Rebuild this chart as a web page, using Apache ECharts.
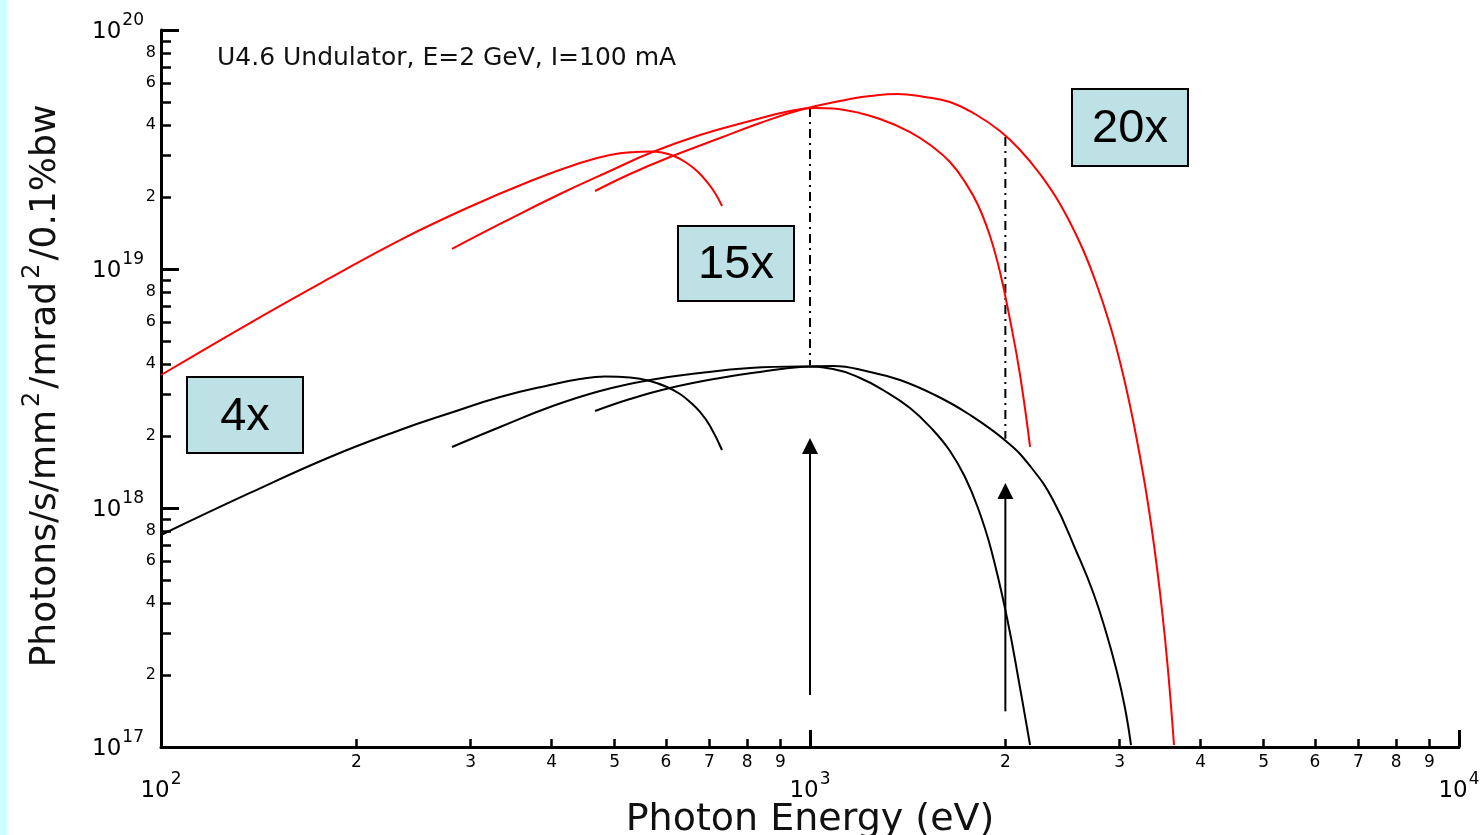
<!DOCTYPE html>
<html><head><meta charset="utf-8">
<script src="https://cdn.jsdelivr.net/npm/echarts@6/dist/echarts.min.js"></script>
<style>html,body{margin:0;padding:0;background:#fff}#c{width:1483px;height:835px}</style>
</head><body><div id="c"></div>
<script>
// ---------- data (photon energy in eV, brightness in photons/s/mm^2/mrad^2/0.1%bw) ----------
const redH1Energy = [100,137.1,182.2,233.5,296.2,374.3,442.2,491.9,537.6,566.9,591.5,617.2,644.1,669.7,693.9,713.9,731.9];
const redH1Bright = [3.601e18,5.943e18,9.170e18,1.322e19,1.800e19,2.357e19,2.777e19,2.999e19,3.087e19,3.102e19,3.072e19,2.970e19,2.790e19,2.571e19,2.312e19,2.080e19,1.835e19];
const redH3Energy = [280.8,333.0,411.9,491.9,566.9,676.9,808.4,931.5,1017.9,1152.6,1282.0,1426.0,1546.9,1643.1,1733.0,1814.8,1893.8,1962.2,2033.6,2107.0,2183.1];
const redH3Bright = [1.213e19,1.543e19,2.060e19,2.571e19,3.057e19,3.636e19,4.161e19,4.583e19,4.717e19,4.583e19,4.242e19,3.742e19,3.239e19,2.804e19,2.312e19,1.853e19,1.374e19,9.715e18,6.117e18,3.601e18,1.800e18];
const redH5Energy = [466.5,528.1,608.6,726.7,837.5,965.2,1152.6,1237.3,1361.7,1503.8,1643.1,1795.7,1962.2,2107.0,2261.4,2427.8,2606.3,2749.0,2898.9,3025.1,3156.7,3282.3,3388.8,3486.4,3561.4,3638.0];
const redH5Bright = [2.120e19,2.498e19,2.942e19,3.532e19,4.082e19,4.627e19,5.144e19,5.295e19,5.398e19,5.244e19,4.997e19,4.452e19,3.779e19,3.147e19,2.498e19,1.871e19,1.285e19,8.994e18,5.830e18,3.779e18,2.225e18,1.248e18,7.002e17,3.743e17,2.100e17,1.019e17];

const blackH1Energy = [100,137.1,182.2,233.5,278.9,333.0,397.6,442.2,483.2,528.1,566.9,602.2,630.5,653.3,676.9,701.4,731.9];
const blackH1Bright = [7.710e17,1.156e18,1.635e18,2.120e18,2.497e18,2.914e18,3.271e18,3.465e18,3.550e18,3.516e18,3.399e18,3.208e18,2.999e18,2.777e18,2.522e18,2.204e18,1.749e18];
const blackH3Energy = [280.8,333.0,397.6,474.8,566.9,676.9,808.4,965.2,1085.0,1194.2,1295.7,1426.0,1546.9,1643.1,1733.0,1814.8,1900.5,2012.0,2107.0,2183.1];
const blackH3Bright = [1.800e18,2.182e18,2.646e18,3.087e18,3.432e18,3.672e18,3.853e18,3.909e18,3.815e18,3.499e18,3.117e18,2.621e18,2.120e18,1.732e18,1.348e18,1.000e18,6.737e17,3.465e17,1.766e17,1.019e17];
const blackH5Energy = [466.5,528.1,608.6,726.7,837.5,965.2,1085.0,1237.3,1376.3,1557.9,1745.3,2012.0,2183.1,2368.5,2579.1,2729.6,2858.1,2971.9,3057.4,3123.3];
const blackH5Bright = [2.546e18,2.858e18,3.178e18,3.499e18,3.707e18,3.890e18,3.928e18,3.707e18,3.432e18,2.970e18,2.497e18,1.889e18,1.499e18,1.080e18,6.483e17,4.452e17,3.028e17,2.060e17,1.456e17,1.019e17];

// dash-dot guides and arrows
const guideEnergy = [1000, 2000];
const guideTop = [4.72e19, 3.567e19];
const guideBottom = [3.95e18, 1.95e18];
const arrowEnergy = [1000, 2000];
const arrowBase = [1.65e17, 1.41e17];
const arrowHead = [1.818e18, 1.179e18];

// ticks and labels
const xMajorTicks = [100, 1000, 10000];
const xMinorTicks = [200,300,400,500,600,700,800,900,2000,3000,4000,5000,6000,7000,8000,9000];
const xMinorLabels = ['2','3','4','5','6','7','8','9','2','3','4','5','6','7','8','9'];
const yMajorTicks = [1e17, 1e18, 1e19, 1e20];
const yMinorTicks = [2e17,3e17,4e17,5e17,6e17,7e17,8e17,9e17,2e18,3e18,4e18,5e18,6e18,7e18,8e18,9e18,2e19,3e19,4e19,5e19,6e19,7e19,8e19,9e19];
const yMinorLabelTicks = [2e17,4e17,6e17,8e17,2e18,4e18,6e18,8e18,2e19,4e19,6e19,8e19];
const yMinorLabels = ['2','4','6','8','2','4','6','8','2','4','6','8'];

const titleText = 'U4.6 Undulator, E=2 GeV, I=100 mA';
const xName = 'Photon Energy (eV)';
const boxLabels = ['4x', '15x', '20x'];

// ---------- chart ----------
const FONT = 'DejaVu Sans';
const zip = (a, b) => a.map((v, i) => [v, b[i]]);
const lg = a => a.map(v => Math.log10(v));
const pick = (exps, labels) => v => { const i = exps.findIndex(e => Math.abs(e - v) < 1e-6); return i >= 0 ? labels[i] : ''; };

const supRich = {
  b: {fontSize: 23, fontFamily: FONT, color: '#000'},
  s: {fontSize: 17, fontFamily: FONT, color: '#000', padding: [0, 0, 24, 1]}
};

function curve(E, B, color) {
  return {type: 'line', xAxisIndex: 0, yAxisIndex: 0, data: zip(E, B), symbol: 'none', smooth: 0.45,
    lineStyle: {color: color, width: 2}, silent: true, z: 3};
}

const series = [
  curve(redH1Energy, redH1Bright, '#ff0000'),
  curve(redH3Energy, redH3Bright, '#ff0000'),
  curve(redH5Energy, redH5Bright, '#ff0000'),
  curve(blackH1Energy, blackH1Bright, '#000000'),
  curve(blackH3Energy, blackH3Bright, '#000000'),
  curve(blackH5Energy, blackH5Bright, '#000000')
];
guideEnergy.forEach((e, i) => series.push({
  type: 'line', data: [[e, guideTop[i]], [e, guideBottom[i]]], symbol: 'none', silent: true,
  lineStyle: {color: '#000', width: 2, type: [9, 5, 2, 5]}, z: 2
}));
arrowEnergy.forEach((e, i) => series.push({
  type: 'line', silent: true, showSymbol: true, symbol: 'none',
  data: [{value: [e, arrowBase[i]], symbol: 'none'}, {value: [e, arrowHead[i]], symbol: 'triangle', symbolSize: [16, 16]}],
  lineStyle: {color: '#000', width: 2}, itemStyle: {color: '#000'}, z: 2
}));

const boxes = [
  {x: 187, y: 377, w: 116, h: 76},
  {x: 678, y: 226, w: 116, h: 75},
  {x: 1072, y: 89, w: 116, h: 77}
];
const graphic = [
  {type: 'rect', shape: {x: 0, y: 0, width: 7, height: 835}, style: {fill: '#ccffff'}, silent: true},
  {type: 'text', x: 217, y: 58, style: {text: titleText, fontSize: 25, fontFamily: FONT, fill: '#111', align: 'left', verticalAlign: 'middle'}},
  {type: 'text', x: 810, y: 820, style: {text: xName, fontSize: 38, fontFamily: FONT, fill: '#111', align: 'center', verticalAlign: 'middle'}},
  {type: 'text', x: 46, y: 386, rotation: Math.PI / 2, style: {
    text: '{a|Photons/s/mm}{s|2}{a|/mrad}{s|2}{a|/0.1%bw}',
    rich: {a: {fontSize: 36, fontFamily: FONT, fill: '#111'}, s: {fontSize: 24, fontFamily: FONT, fill: '#111', padding: [0, 3, 26, 3]}},
    align: 'center', verticalAlign: 'middle'}}
];
boxes.forEach((b, i) => {
  graphic.push({type: 'rect', shape: {x: b.x, y: b.y, width: b.w, height: b.h}, style: {fill: '#bde1e4', stroke: '#000', lineWidth: 2}, z: 10});
  graphic.push({type: 'text', x: b.x + b.w / 2, y: b.y + b.h / 2 + 2, z: 11,
    style: {text: boxLabels[i], fontSize: 47, fontFamily: 'Liberation Sans', fill: '#000', align: 'center', verticalAlign: 'middle'}});
});

const option = {
  animation: false,
  backgroundColor: '#fff',
  grid: {left: 161, right: 24, top: 30, bottom: 88, containLabel: false, outerBoundsMode: 'none'},
  xAxis: [
    {type: 'log', logBase: 10, min: 100, max: 10000, position: 'bottom',
     axisLine: {show: true, onZero: false, lineStyle: {color: '#000', width: 3}},
     axisTick: {show: false}, axisLabel: {show: false}, splitLine: {show: false}},
    {type: 'value', min: 2, max: 4, position: 'bottom', axisLine: {show: false},
     axisTick: {show: true, inside: true, length: 17, lineStyle: {color: '#000', width: 3}, customValues: lg(xMajorTicks)},
     axisLabel: {customValues: lg(xMajorTicks), margin: 24, showMinLabel: true, showMaxLabel: true,
       fontSize: 23, fontFamily: FONT, color: '#000',
       formatter: v => '{b|10}{s|' + Math.round(v) + '}', rich: supRich},
     splitLine: {show: false}},
    {type: 'value', min: 2, max: 4, position: 'bottom', axisLine: {show: false},
     axisTick: {show: true, inside: true, length: 8, lineStyle: {color: '#000', width: 2.5}, customValues: lg(xMinorTicks)},
     axisLabel: {customValues: lg(xMinorTicks), margin: 7, fontSize: 17, fontFamily: FONT, color: '#000',
       showMinLabel: true, showMaxLabel: true, formatter: pick(lg(xMinorTicks), xMinorLabels)},
     splitLine: {show: false}}
  ],
  yAxis: [
    {type: 'log', logBase: 10, min: 1e17, max: 1e20, position: 'left',
     axisLine: {show: true, onZero: false, lineStyle: {color: '#000', width: 3}},
     axisTick: {show: false}, axisLabel: {show: false}, splitLine: {show: false}},
    {type: 'value', min: 17, max: 20, position: 'left', axisLine: {show: false},
     axisTick: {show: true, inside: true, length: 18, lineStyle: {color: '#000', width: 3}, customValues: lg(yMajorTicks)},
     axisLabel: {customValues: lg(yMajorTicks), margin: 17, showMinLabel: true, showMaxLabel: true,
       fontSize: 23, fontFamily: FONT, color: '#000', padding: [5, 0, 0, 0],
       formatter: v => '{b|10}{s|' + Math.round(v) + '}', rich: supRich},
     splitLine: {show: false}},
    {type: 'value', min: 17, max: 20, position: 'left', axisLine: {show: false},
     axisTick: {show: true, inside: true, length: 10, lineStyle: {color: '#000', width: 2.5}, customValues: lg(yMinorTicks)},
     axisLabel: {customValues: lg(yMinorLabelTicks), margin: 5, fontSize: 16, fontFamily: FONT, color: '#000',
       showMinLabel: true, showMaxLabel: true, formatter: pick(lg(yMinorLabelTicks), yMinorLabels)},
     splitLine: {show: false}}
  ],
  series: series,
  graphic: graphic
};
const chart = echarts.init(document.getElementById('c'), null, {renderer: 'canvas'});
chart.setOption(option);
</script></body></html>
